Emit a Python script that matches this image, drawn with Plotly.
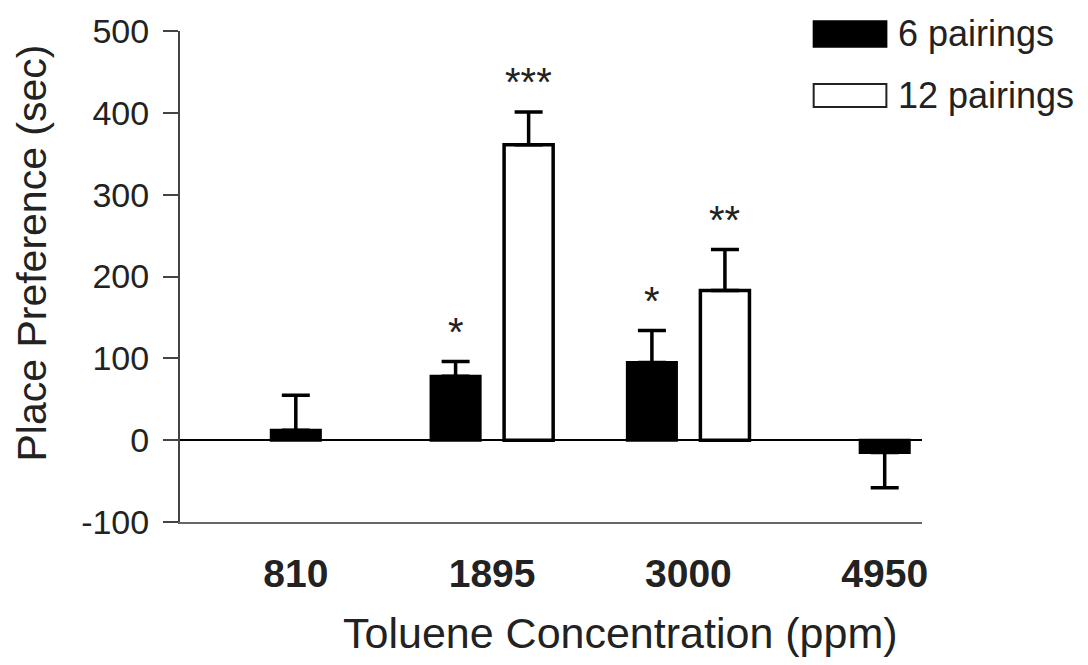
import plotly.graph_objects as go

# ---- data ----
concentrations = ["810", "1895", "3000", "4950"]
six_mean = [12, 78, 95, -15]
six_sem = [43, 18, 39, 43]
six_sig = ["", "*", "*", ""]

twelve_conc = ["1895", "3000"]
twelve_mean = [361, 183]
twelve_sem = [40, 50]
twelve_sig = ["***", "**"]

y_ticks = [-100, 0, 100, 200, 300, 400, 500]
y_tick_text = ["-100", "0", "100", "200", "300", "400", "500"]

# ---- styling ----
FONT = "Liberation Sans, Arial, Helvetica, sans-serif"
W = 0.25      # bar width (category units)
D = 0.186     # half distance between paired bars

paired = set(twelve_conc)
six_offset = [(-D - W / 2) if c in paired else -W / 2 for c in concentrations]
twelve_offset = [D - W / 2 for _ in twelve_conc]

def up(vals, errs):
    return [e if v >= 0 else 0 for v, e in zip(vals, errs)]

def down(vals, errs):
    return [e if v < 0 else 0 for v, e in zip(vals, errs)]

fig = go.Figure()
fig.add_trace(go.Bar(
    x=concentrations, y=six_mean, width=W, offset=six_offset,
    marker=dict(color="black", line=dict(color="black", width=3)),
    error_y=dict(type="data", symmetric=False,
                 array=up(six_mean, six_sem), arrayminus=down(six_mean, six_sem),
                 color="black", thickness=3.5, width=14),
    name="6 pairings", showlegend=False,
))
fig.add_trace(go.Bar(
    x=twelve_conc, y=twelve_mean, width=W, offset=twelve_offset,
    marker=dict(color="white", line=dict(color="black", width=3.5)),
    error_y=dict(type="data", symmetric=False,
                 array=up(twelve_mean, twelve_sem), arrayminus=down(twelve_mean, twelve_sem),
                 color="black", thickness=3.5, width=14),
    name="12 pairings", showlegend=False,
))

annotations = []
idx = {c: i for i, c in enumerate(concentrations)}
star_font = dict(family=FONT, size=40, color="#222")
for c, v, e, s, off in zip(concentrations, six_mean, six_sem, six_sig, six_offset):
    if s:
        annotations.append(dict(x=idx[c] + off + W / 2, y=v + e, text=s, showarrow=False,
                                xref="x", yref="y", yanchor="middle", yshift=30,
                                font=star_font))
for c, v, e, s, off in zip(twelve_conc, twelve_mean, twelve_sem, twelve_sig, twelve_offset):
    if s:
        annotations.append(dict(x=idx[c] + off + W / 2, y=v + e, text=s, showarrow=False,
                                xref="x", yref="y", yanchor="middle", yshift=30,
                                font=star_font))

# axis titles
annotations.append(dict(x=0.593, y=-0.227, xref="paper", yref="paper", showarrow=False,
                        text="Toluene Concentration (ppm)", xanchor="center", yanchor="middle",
                        font=dict(family=FONT, size=43, color="#222")))
annotations.append(dict(x=-0.2, y=0.548, xref="paper", yref="paper", showarrow=False,
                        text="Place Preference (sec)", textangle=-90,
                        xanchor="center", yanchor="middle",
                        font=dict(family=FONT, size=41, color="#222")))

# legend drawn manually
shapes = [
    dict(type="rect", xref="paper", yref="paper", x0=0.854, x1=0.952, y0=0.968, y1=1.02,
         fillcolor="black", line=dict(color="black", width=2)),
    dict(type="rect", xref="paper", yref="paper", x0=0.854, x1=0.952, y0=0.845, y1=0.892,
         fillcolor="white", line=dict(color="#222", width=2)),
]
annotations.append(dict(x=0.965, y=0.994, xref="paper", yref="paper", showarrow=False,
                        text="6 pairings", xanchor="left", yanchor="middle",
                        font=dict(family=FONT, size=36, color="#222")))
annotations.append(dict(x=0.965, y=0.868, xref="paper", yref="paper", showarrow=False,
                        text="12 pairings", xanchor="left", yanchor="middle",
                        font=dict(family=FONT, size=36, color="#222")))

fig.update_layout(
    width=1088, height=665,
    margin=dict(l=180, r=166, t=24, b=143),
    paper_bgcolor="white", plot_bgcolor="white",
    barmode="overlay",
    annotations=annotations, shapes=shapes,
    showlegend=False,
)
fig.update_xaxes(
    type="category", range=[-0.59, 3.19],
    showgrid=False, zeroline=False,
    showline=True, linecolor="#666", linewidth=2,
    ticks="", ticklabelstandoff=16,
    tickfont=dict(family=FONT, size=39, color="#222", weight="bold"),
)
fig.update_yaxes(
    range=[-100, 500], tickvals=y_ticks, ticktext=y_tick_text,
    showgrid=False,
    zeroline=True, zerolinecolor="black", zerolinewidth=2,
    showline=True, linecolor="#444", linewidth=2,
    ticks="outside", ticklen=15, tickwidth=2, tickcolor="#444",
    ticklabelstandoff=7,
    tickfont=dict(family=FONT, size=34, color="#222"),
)

fig.write_html("out.html")
